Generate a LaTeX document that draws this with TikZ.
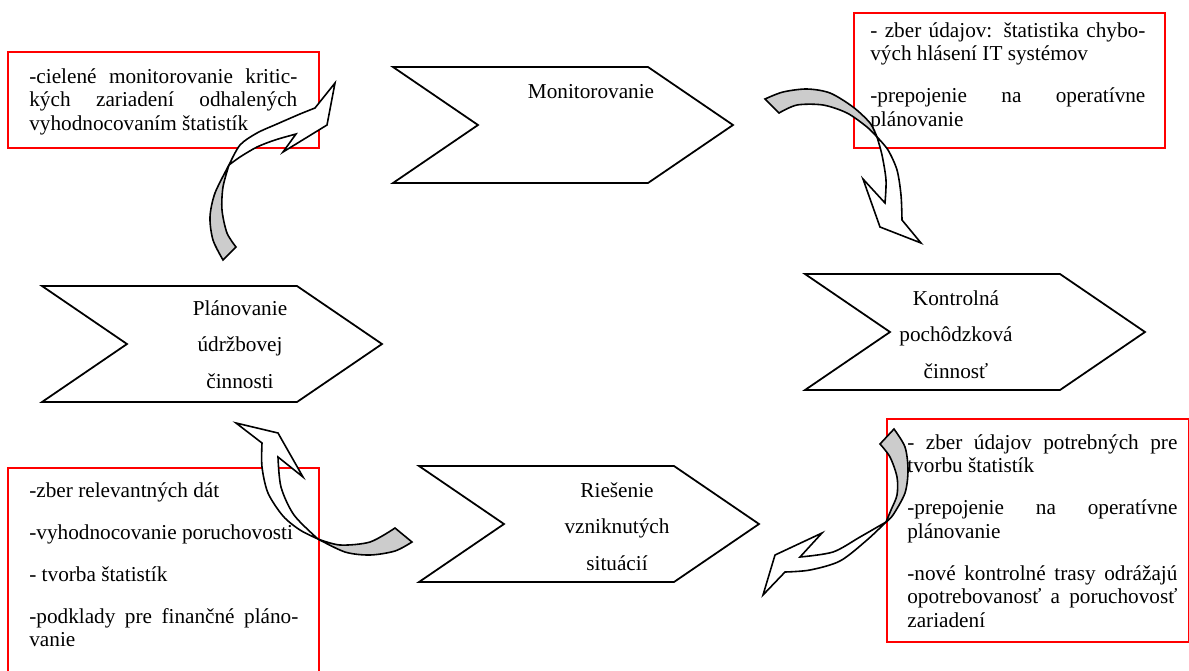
\documentclass[tikz,border=0pt]{standalone}
\usepackage{fontspec}
\setmainfont{Liberation Serif}

\newcommand{\paragap}{\par\vspace{10.5pt}}

\tikzset{
  chevron/.pic={
    \draw[line width=1pt] (0,0) -- (255,0) -- (340,58) -- (255,116) -- (0,116) -- (85,58) -- cycle;
  },
  redbox/.style={draw=red,line width=1pt},
  note/.style={anchor=base west,inner sep=0pt,align=justify,
    font={\fontsize{12}{13.3}\selectfont\tolerance=10000\hyphenpenalty=10000\relax}},
  stage/.style={anchor=base,inner sep=0pt,align=center,text width=4cm,
    font={\fontsize{12}{20.8}\selectfont}},
  front/.style={draw,line width=0.9pt,fill=white},
  back/.style={front,fill=black!20},
}

\begin{document}
\begin{tikzpicture}[x=0.565pt,y=-0.565pt]
\clip (0,0) rectangle (1189,670);

% red note boxes
\draw[redbox] (8,52) rectangle (319,148);
\draw[redbox] (854,13) rectangle (1165,148);
\draw[redbox] (8,468) rectangle (319,690);
\draw[redbox] (887,419) rectangle (1189,642);

\node[note,text width=151.4pt] (ciel) at (29,83) {-cielené monitorovanie kritic-\linebreak kých zariadení odhalených\linebreak vyhodnocovaním štatistík};
\node[note,text width=155.4pt] (zber) at (870,37) {- zber údajov: štatistika chybo-\linebreak vých hlásení IT systémov\paragap -prepojenie na operatívne\linebreak plánovanie};
\node[note,text width=152pt] (podklad) at (29,497) {-zber relevantných dát\paragap -vyhodnocovanie poruchovosti\paragap - tvorba štatistík\paragap -podklady pre finančné pláno-\linebreak vanie};
\node[note,text width=152.6pt] (trasy) at (907,449) {- zber údajov potrebných pre\linebreak tvorbu štatistík\paragap -prepojenie na operatívne\linebreak plánovanie\paragap -nové kontrolné trasy odrážajú\linebreak opotrebovanosť a poruchovosť\linebreak zariadení};

% the four stages
\pic at (393,67) {chevron};
\pic at (42,286) {chevron};
\pic at (805,274) {chevron};
\pic at (419,466) {chevron};
\node[stage] (monit) at (591,98) {Monitorovanie};
\node[stage] (plan) at (240,315) {Plánovanie\\údržbovej\\činnosti};
\node[stage] (kontrol) at (956,305) {Kontrolná\\pochôdzková\\činnosť};
\node[stage] (ries) at (617,497) {Riešenie\\vzniknutých\\situácií};

% curved arrows: grey back face at the tail, white front with the head
\draw[back] (223,260) -- (236,247) -- plot[smooth] coordinates {(236,247) (227,233) (222,210) (223,187) (229,165)} -- plot[smooth] coordinates {(229,165) (215,193) (210,217) (213,240) (223,260)} -- cycle;
\draw[front] (335,83) -- (327,125) -- (283,152) -- (296,134) -- plot[smooth] coordinates {(296,134) (275,140) (257,147) (240,157) (229,165)} -- plot[smooth] coordinates {(229,165) (240,145) (257,133) (277,124) (300,114) (315,108)} -- cycle;

\draw[back] (765,99) -- plot[smooth] coordinates {(765,99) (783,92) (807,89) (830,93) (853,107) (870,123) (877,137)} -- plot[smooth] coordinates {(877,137) (867,127) (847,113) (823,105) (797,105) (779,113)} -- cycle;
\draw[front] (921,243) -- (880,227) -- (863,179) -- (885,203) -- plot[smooth] coordinates {(885,203) (886,180) (882,155) (877,137)} -- plot[smooth] coordinates {(877,137) (888,150) (897,170) (901,195) (902,220)} -- cycle;

\draw[back] (880,444) -- (894,429) -- plot[smooth] coordinates {(894,429) (905,447) (908,470) (905,493) (893,515) (886,522)} -- plot[smooth] coordinates {(886,522) (891,510) (897,495) (897,477) (890,457) (880,444)} -- cycle;
\draw[front] (763,595) -- (775,555) -- (822,533) -- (800,557) -- plot[smooth] coordinates {(800,557) (833,552) (860,537) (886,522)} -- plot[smooth] coordinates {(886,522) (867,540) (840,561) (810,570) (785,572)} -- cycle;

\draw[back] (318,539) -- plot[smooth] coordinates {(318,539) (340,545) (370,542) (395,528)} -- (412,542) -- plot[smooth] coordinates {(412,542) (395,551) (370,555) (345,552) (318,539)} -- cycle;
\draw[front] (236,423) -- (278,433) -- (303,477) -- (278,457) -- plot[smooth] coordinates {(278,457) (281,487) (294,515) (318,539)} -- plot[smooth] coordinates {(318,539) (300,530) (283,516) (268,493) (262,467) (262,443)} -- cycle;
\end{tikzpicture}
\end{document}
